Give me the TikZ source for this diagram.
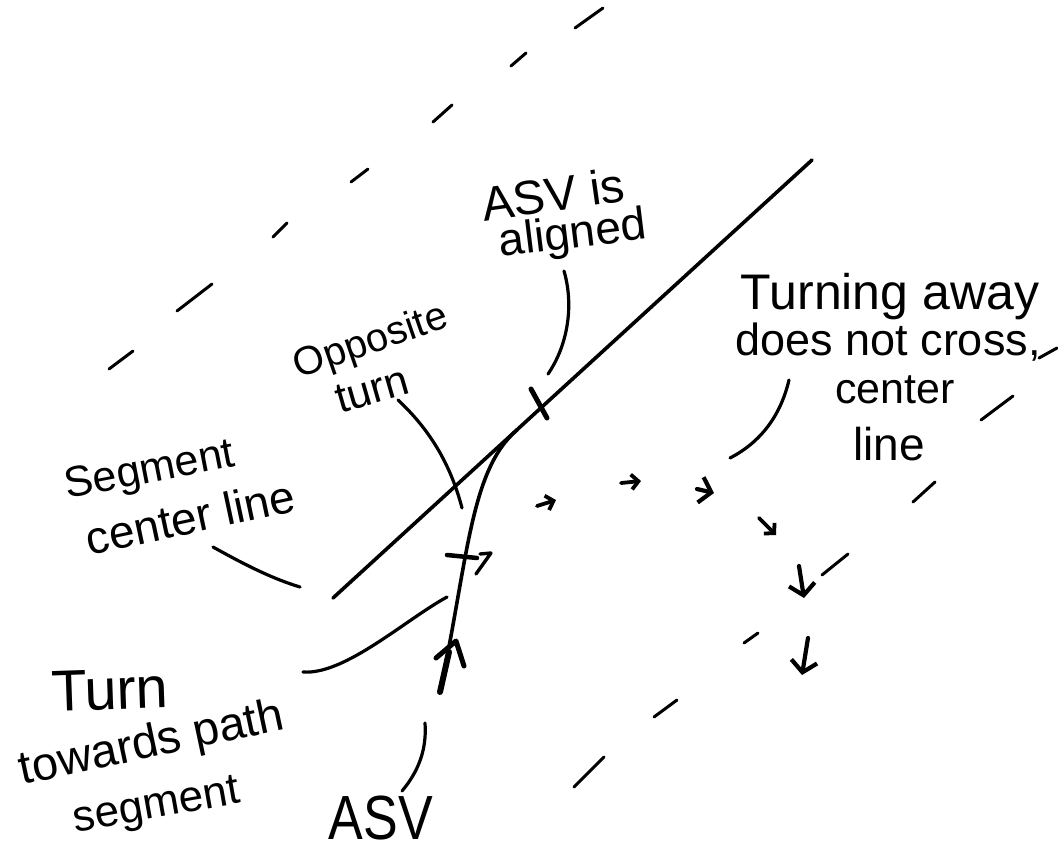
\documentclass[tikz,border=0pt]{standalone}
\usepackage{fontspec}
\setmainfont{Liberation Sans}
\usetikzlibrary{arrows.meta}
\begin{document}
\begin{tikzpicture}[x=1pt,y=-1pt,
  ink/.style={line width=3.6pt, line cap=round, line join=round},
  leader/.style={line width=3.2pt, line cap=round},
  lane/.style={line width=3pt, line cap=round},
  hop/.style={line width=3.8pt, line cap=round,
    -{Straight Barb[length=7pt,width=15pt,line width=3.8pt]}},
  bighop/.style={line width=4.2pt, line cap=round,
    -{Straight Barb[length=11pt,width=26pt,line width=4.2pt]}},
  hw/.style={inner sep=0pt, font=\fontsize{#1}{#1}\selectfont}]
\useasboundingbox (0,0) rectangle (1058,855);

% lane boundaries, dashed by hand
\foreach \ax/\ay/\bx/\by in {575/28/603/8, 511/66/526/53, 433/122/452/105,
    351/182/368/169, 273/237/287/223, 177/311/212/284, 109/369/133/351,
    1039/358/1057/348, 981/420/1013/396, 913/502/935/482, 822/575/848/554,
    744/643/758/633, 654/717/677/700, 574/787/604/757}
  \draw[lane] (\ax,\ay) -- (\bx,\by);

% segment centre line with the alignment mark
\coordinate (clA) at (333,598);
\coordinate (clB) at (812,160);
\draw[ink] (clA) -- (clB);
\coordinate (tkA) at (531,389);
\coordinate (tkB) at (547,418);
\draw[ink, line width=5pt] (tkA) -- (tkB);

% vehicle track turning onto the segment
\coordinate (asv0) at (440,692);
\coordinate (join) at (517,430);
\draw[ink] (asv0) .. controls (468,560) and (470,470) .. (join);
\coordinate (asv1) at (449,652);
\draw[ink, line width=6pt] (asv0) -- (asv1);
\coordinate (head) at (456,641);
\coordinate (hdL) at (436,658);
\coordinate (hdR) at (464,666);
\draw[ink, line width=5pt] (hdL) -- (head) -- (hdR);
\coordinate (ptA) at (447,555);
\coordinate (ptB) at (477,558);
\draw[ink, line width=4.5pt] (ptA) -- (ptB);
\coordinate (opA) at (480,554);
\coordinate (opB) at (491,553);
\coordinate (opC) at (476,574);
\draw[ink, line width=3.4pt] (opA) -- (opB) -- (opC);

% turning away, step by step
\coordinate (s1) at (537,506); \coordinate (e1) at (556,500);
\coordinate (s2) at (621,483); \coordinate (e2) at (641,481);
\coordinate (s3) at (697,489); \coordinate (e3) at (714,493);
\coordinate (s4) at (759,518); \coordinate (e4) at (776,535);
\coordinate (s5) at (799,566); \coordinate (e5) at (804,598);
\coordinate (s6) at (808,638); \coordinate (e6) at (802,675);
\draw[hop] (s1) -- (e1);
\draw[hop] (s2) -- (e2);
\draw[bighop] (s3) -- (e3);
\draw[hop] (s4) -- (e4);
\draw[bighop] (s5) -- (e5);
\draw[bighop] (s6) -- (e6);

% labels
\node[hw=48, rotate=8] (asvis) at (553,194) {ASV is};
\node[hw=46, rotate=7] (aligned) at (573,236) {aligned};
\node[hw=40, rotate=19] (opp) at (371,343) {Opposite};
\node[hw=43, rotate=16] (oppturn) at (372,390) {turn};
\node[hw=43, rotate=11] (seg1) at (150,472) {Segment};
\node[hw=46, rotate=12] (seg2) at (190,517) {center line};
\node[hw=58, rotate=2] (tw1) at (110,690) {Turn};
\node[hw=47, rotate=12] (tw2) at (152,745) {towards path};
\node[hw=44, rotate=10] (tw3) at (157,808) {segment};
\node[hw=52, yscale=1.2] (asvlbl) at (381,818) {ASV};
\node[hw=50] (ta1) at (890,297) {Turning away};
\node[hw=45] (ta2) at (888,342) {does not cross,};
\node[hw=43] (ta3) at (895,390) {center};
\node[hw=46] (ta4) at (889,444) {line};

% leader lines
\coordinate (la1) at (564,271); \coordinate (la2) at (548,374);
\draw[leader] (la1) .. controls (574,305) and (568,345) .. (la2);
\coordinate (lo1) at (398,400); \coordinate (lo2) at (462,508);
\draw[leader] (lo1) .. controls (428,428) and (450,462) .. (lo2);
\coordinate (ls1) at (213,547); \coordinate (ls2) at (300,587);
\draw[leader] (ls1) .. controls (240,562) and (270,578) .. (ls2);
\coordinate (lt1) at (303,672); \coordinate (lt2) at (447,597);
\draw[leader] (lt1) .. controls (345,675) and (405,620) .. (lt2);
\coordinate (lv1) at (425,723); \coordinate (lv2) at (402,791);
\draw[leader] (lv1) .. controls (427,750) and (418,772) .. (lv2);
\coordinate (lg1) at (789,380); \coordinate (lg2) at (730,458);
\draw[leader] (lg1) .. controls (782,410) and (765,440) .. (lg2);
\end{tikzpicture}
\end{document}
